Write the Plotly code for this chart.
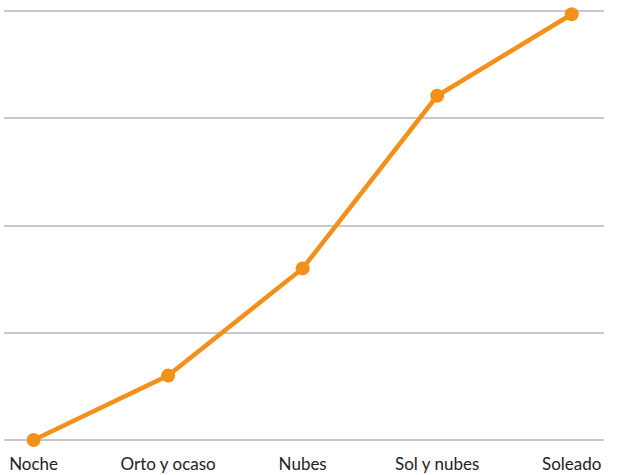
import plotly.graph_objects as go

categories = ["Noche", "Orto y ocaso", "Nubes", "Sol y nubes", "Soleado"]
values = [0.0, 0.6, 1.6, 3.21, 3.97]

fig = go.Figure()
fig.add_trace(go.Scatter(
    x=categories, y=values, mode="lines+markers",
    line=dict(color="#F39019", width=4.5),
    marker=dict(color="#F39019", size=14),
    cliponaxis=False, showlegend=False,
))
fig.update_layout(
    width=621, height=475,
    margin=dict(l=4, r=17, t=10, b=34),
    paper_bgcolor="white", plot_bgcolor="white",
    font=dict(family="Lato, sans-serif", size=17, color="#222222"),
)
fig.update_xaxes(range=[-0.22, 4.24], showgrid=False, showline=False, zeroline=False,
                 ticks="outside", ticklen=8, tickcolor="rgba(0,0,0,0)", automargin=False)
fig.update_yaxes(range=[-0.01, 4.01], dtick=1, tick0=0, showgrid=True, gridcolor="#c8c8c8",
                 gridwidth=2, zeroline=False, showticklabels=False, showline=False,
                 automargin=False)
fig.write_html("out.html", config={"displayModeBar": False},
               post_script="document.body.style.margin='0';")
